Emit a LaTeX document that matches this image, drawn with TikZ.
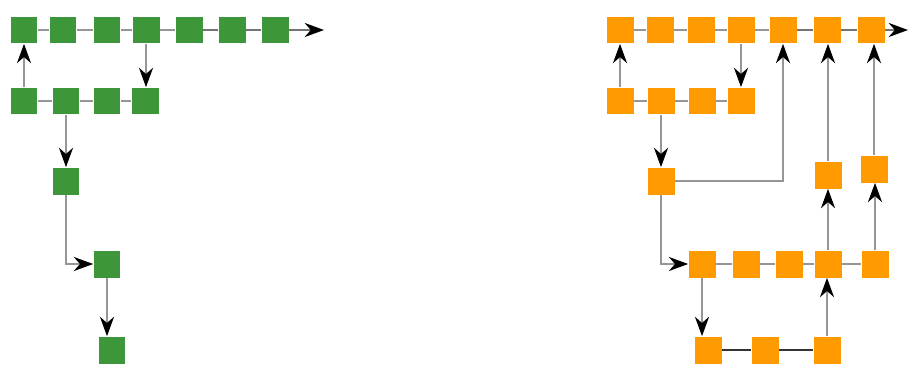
\documentclass[tikz,border=0pt]{standalone}
\definecolor{leafgreen}{RGB}{61, 150, 57}
\definecolor{sunorange}{RGB}{255, 155, 0}
\definecolor{wiregray}{RGB}{150, 150, 150}
\usetikzlibrary{arrows.meta}

\begin{document}
\begin{tikzpicture}[x=0.02cm, y=-0.02cm,
        gbox/.style={rectangle, fill=leafgreen, inner sep=0pt, minimum size=0.54cm},
        obox/.style={rectangle, fill=sunorange, inner sep=0pt, minimum size=0.54cm},
        link/.style={draw=wiregray, line width=1.1pt},
        flow/.style={draw=wiregray, line width=1.1pt, -{Stealth[length=11pt, width=8pt, inset=3.5pt, color=black]}}]
        \useasboundingbox (0,0) rectangle (908,365);

        % Green chain, top row
        \node[gbox] (g1) at (24,30) {};
        \node[gbox] (g2) at (63,30) {};
        \node[gbox] (g3) at (107,30) {};
        \node[gbox] (g4) at (146,30) {};
        \node[gbox] (g5) at (189,30) {};
        \node[gbox] (g6) at (232,30) {};
        \node[gbox] (g7) at (275,30) {};
        \coordinate (gend) at (324,30);

        % Green chain, second row
        \node[gbox] (gb1) at (24,101) {};
        \node[gbox] (gb2) at (66,101) {};
        \node[gbox] (gb3) at (107,101) {};
        \node[gbox] (gb4) at (145,101) {};

        % Green chain, branch
        \node[gbox] (gm) at (66,181) {};
        \node[gbox] (gc) at (107,264) {};
        \node[gbox] (gd) at (112,350) {};

        % Orange chain, top row
        \node[obox] (o1) at (620,30) {};
        \node[obox] (o2) at (660,30) {};
        \node[obox] (o3) at (701,30) {};
        \node[obox] (o4) at (741,30) {};
        \node[obox] (o5) at (783,30) {};
        \node[obox] (o6) at (827,30) {};
        \node[obox] (o7) at (871,30) {};
        \coordinate (oend) at (908,30);

        % Orange chain, second row
        \node[obox] (ob1) at (620,101) {};
        \node[obox] (ob2) at (661,101) {};
        \node[obox] (ob3) at (702,101) {};
        \node[obox] (ob4) at (741,101) {};

        % Orange chain, side boxes
        \node[obox] (om) at (661,181) {};
        \node[obox] (ou1) at (828,175) {};
        \node[obox] (ou2) at (874,169) {};

        % Orange chain, third row
        \node[obox] (oc1) at (702,264) {};
        \node[obox] (oc2) at (746,264) {};
        \node[obox] (oc3) at (789,264) {};
        \node[obox] (oc4) at (828,264) {};
        \node[obox] (oc5) at (875,264) {};

        % Orange chain, bottom row
        \node[obox] (od1) at (708,350) {};
        \node[obox] (od2) at (765,350) {};
        \node[obox] (od3) at (827,350) {};

        % Green links
        \draw[link] (g1) -- (g2) -- (g3) -- (g4) -- (g5);
        \draw[link, draw=black!55] (g5) -- (g6) -- (g7);
        \draw[flow, draw=black!55] (g7) -- (gend);
        \draw[link] (gb1) -- (gb2) -- (gb3) -- (gb4);
        \draw[flow] (gb1) -- (g1);
        \draw[flow] (g4.south) -- (g4.south |- gb4.north);
        \draw[flow] (gb2) -- (gm);
        \draw[flow] (gm) |- (gc);
        \draw[flow] (gc.south) -- (gc.south |- gd.north);

        % Orange links
        \draw[link] (o1) -- (o2) -- (o3) -- (o4) -- (o5);
        \draw[link, draw=black!55] (o5) -- (o6) -- (o7);
        \draw[flow, draw=black!55] (o7) -- (oend);
        \draw[link] (ob1) -- (ob2) -- (ob3) -- (ob4);
        \draw[flow] (ob1) -- (o1);
        \draw[flow] (o4) -- (ob4);
        \draw[flow] (ob2) -- (om);
        \draw[flow] (om) -| (o5);
        \draw[flow] (om) |- (oc1);
        \draw[link] (oc1) -- (oc2) -- (oc3) -- (oc4) -- (oc5);
        \draw[flow] (oc1.south) -- (oc1.south |- od1.north);
        \draw[link, draw=black!80] (od1) -- (od2) -- (od3);
        \draw[flow] (od3.north) -- (od3.north |- oc4.south);
        \draw[flow] (oc4) -- (ou1);
        \draw[flow] (ou1.north) -- (ou1.north |- o6.south);
        \draw[flow] (oc5.north) -- (oc5.north |- ou2.south);
        \draw[flow] (ou2.north) -- (ou2.north |- o7.south);
    \end{tikzpicture}
\end{document}
